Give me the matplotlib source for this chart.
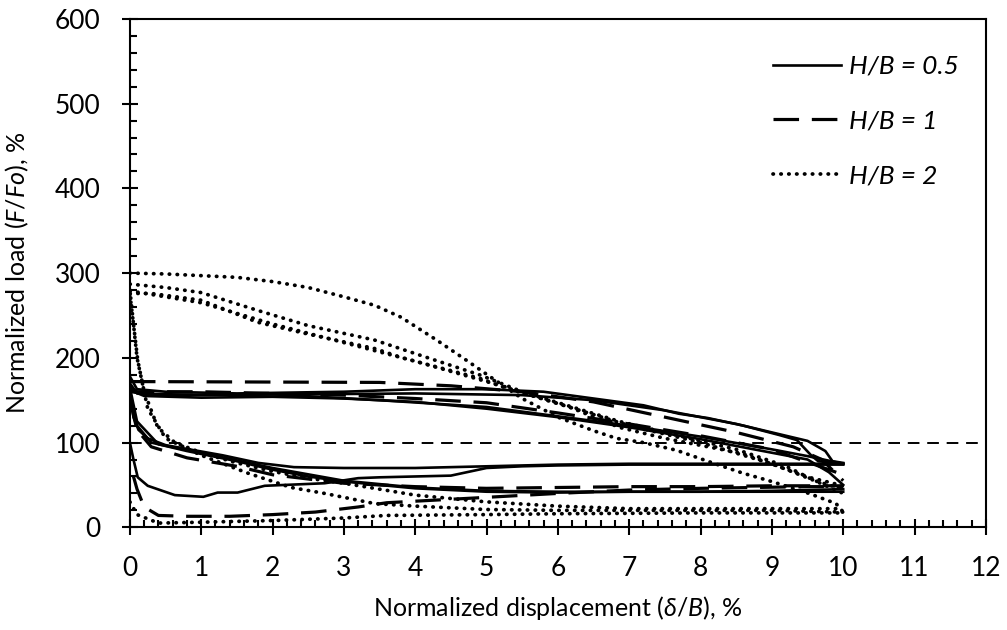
import matplotlib
matplotlib.use("Agg")
import matplotlib.pyplot as plt
from matplotlib.ticker import MultipleLocator

plt.rcParams['font.family'] = ['Lato', 'DejaVu Sans']
plt.rcParams['mathtext.fontset'] = 'custom'
plt.rcParams['mathtext.rm'] = 'Lato'
plt.rcParams['mathtext.it'] = 'Lato:italic'
plt.rcParams['mathtext.fallback'] = 'stixsans'

# H/B = 0.5 (solid)
s1_x = [0, 0.1, 0.5, 1.5, 3, 4, 5, 5.8, 6.5, 7.2, 7.7, 8.1, 8.6, 9.1, 9.35, 9.55, 9.65, 10]
s1_y = [178, 163, 160, 158, 160, 163, 163, 160, 152, 144, 134, 129, 120, 109, 103, 85, 78, 75]
s2_x = [0, 0.1, 1, 2.5, 4, 5.5, 6.5, 7.5, 8.5, 9.2, 9.5, 9.75, 9.85, 10]
s2_y = [170, 158, 156, 157, 158, 156, 150, 138, 122, 108, 102, 90, 78, 76]
s3_x = [0, 0.2, 1, 2, 3, 4, 5, 6, 7, 8, 9, 9.5, 9.8, 10]
s3_y = [162, 155, 153, 154, 152, 148, 140, 130, 118, 104, 88, 80, 65, 50]
s4_x = [0, 0.3, 2, 3.5, 5, 6, 7, 8, 9, 9.5, 10]
s4_y = [160, 156, 157, 150, 142, 131, 120, 107, 92, 84, 75]
s5_x = [0, 0.05, 0.12, 0.25, 0.5, 0.9, 1.3, 1.8, 2.3, 3, 4, 5, 6, 7, 8, 9, 10]
s5_y = [160, 130, 115, 105, 97, 91, 85, 76, 71, 70, 70, 72, 74, 75, 75, 75, 75]
s6_x = [0, 0.05, 0.11, 0.25, 0.63, 1.03, 1.23, 1.51, 1.89, 2.73, 3.2, 3.5, 4, 4.5, 5, 5.5, 6, 7, 8, 9, 10]
s6_y = [100, 80, 59, 49, 38, 36, 41, 41, 49, 52, 58, 59, 60, 61, 70, 72, 73, 74, 74, 74, 74]
s7_x = [0, 0.1, 0.3, 0.8, 1.5, 2, 2.5, 3, 3.5, 4, 5, 6, 7, 8, 9, 10]
s7_y = [155, 120, 100, 90, 78, 68, 60, 54, 50, 46, 42, 41, 42, 42, 43, 45]
s8_x = [0, 0.1, 0.4, 1, 2, 3, 4, 5, 6, 8, 10]
s8_y = [165, 125, 98, 88, 70, 55, 47, 43, 42, 42, 42]

# H/B = 1 (dashed)
d1_x = [0, 3.5, 4.5, 5.5, 6.5, 7.5, 8.5, 9.3, 9.7, 10]
d1_y = [172, 171, 167, 160, 148, 130, 112, 95, 80, 55]
d2_x = [0, 0.1, 1, 2, 3, 4, 5, 6, 7, 8, 9, 10]
d2_y = [165, 160, 160, 158, 156, 152, 147, 135, 122, 108, 92, 62]
d3_x = [0, 0.1, 0.3, 0.8, 1.5, 2, 3, 4, 5, 6, 7, 8, 9, 10]
d3_y = [150, 115, 95, 82, 72, 62, 52, 48, 46, 47, 48, 48, 49, 49]
d4_x = [0.05, 0.1, 0.2, 0.4, 0.8, 1.4, 2, 2.6, 3.2, 3.6, 4.7, 6, 7, 8, 9.5, 10]
d4_y = [60, 45, 24, 14, 13, 13, 15, 18, 24, 29, 34, 40, 44, 46, 48, 48]

# H/B = 2 (dotted)
t1_x = [0, 0.5, 1, 1.5, 2, 2.5, 3, 3.43, 3.8, 4.3, 4.72, 5.08, 5.5, 6, 6.5, 6.82, 7.2, 7.66, 8.1, 8.59, 9, 9.52, 9.9, 10]
t1_y = [300, 299, 297, 295, 290, 283, 272, 262, 248, 221, 197, 176, 152, 130, 114, 105, 100, 91, 78, 64, 54, 40, 28, 18]
t2_x = [0, 0.5, 1, 1.79, 2.5, 3.43, 4, 4.9, 5.5, 6.2, 6.86, 7.5, 8.5, 9.2, 9.6, 10]
t2_y = [287, 283, 277, 256, 238, 221, 205, 180, 160, 142, 125, 112, 92, 72, 55, 45]
t3_x = [0, 0.3, 1, 1.79, 2.5, 3.43, 3.82, 4.9, 5.22, 6.16, 6.86, 7.5, 8.59, 9.52, 10]
t3_y = [276, 276, 268, 242, 228, 211, 200, 176, 166, 142, 118, 105, 87, 59, 49]
t4_x = [0, 1, 2, 3, 4, 5, 6, 7, 8, 9, 9.6, 10]
t4_y = [279, 265, 240, 218, 196, 172, 146, 120, 100, 75, 55, 40]
t5_x = [0, 0.05, 0.11, 0.2, 0.39, 0.63, 1, 1.5, 2, 2.5, 3, 3.5, 4, 5, 6, 7, 8, 9, 10]
t5_y = [275, 240, 197, 160, 118, 100, 88, 76, 66, 58, 52, 45, 38, 30, 25, 22, 22, 22, 22]
t6_x = [0, 0.1, 0.25, 0.5, 1, 1.65, 2.26, 2.73, 3.43, 4, 5, 6, 7, 8, 9, 10]
t6_y = [280, 200, 140, 105, 85, 64, 47, 40, 28, 25, 21, 20, 20, 20, 20, 18]
t7_x = [0, 0.1, 0.4, 1, 2, 3, 3.6, 5, 6, 8, 10]
t7_y = [30, 15, 5, 6, 8, 11, 14, 15, 16, 17, 17]

solid = [(s1_x, s1_y), (s2_x, s2_y), (s3_x, s3_y), (s4_x, s4_y),
         (s5_x, s5_y), (s6_x, s6_y), (s7_x, s7_y), (s8_x, s8_y)]
dashed = [(d1_x, d1_y), (d2_x, d2_y), (d3_x, d3_y), (d4_x, d4_y)]
dotted = [(t1_x, t1_y), (t2_x, t2_y), (t3_x, t3_y), (t4_x, t4_y),
          (t5_x, t5_y), (t6_x, t6_y), (t7_x, t7_y)]

ref_x = [0, 12]
ref_y = [100, 100]

fig = plt.figure(figsize=(10.07, 6.3), dpi=100)
ax = fig.add_axes([0.129, 0.163, 0.850, 0.807])

sty_solid = dict(color='black', lw=1.9, solid_joinstyle='round')
sty_dash = dict(color='black', lw=2.3, linestyle=(0, (8, 4)))
sty_dot = dict(color='black', lw=2.7, linestyle=(0, (0.1, 2.0)), dash_capstyle='round')

ax.plot(ref_x, ref_y, color='black', lw=1.4, linestyle=(0, (6, 4)))

for i, (x, y) in enumerate(solid):
    ax.plot(x, y, label='H/B = 0.5' if i == 0 else None, **sty_solid)
for i, (x, y) in enumerate(dashed):
    ax.plot(x, y, label='H/B = 1' if i == 0 else None, **sty_dash)
for i, (x, y) in enumerate(dotted):
    ax.plot(x, y, label='H/B = 2' if i == 0 else None, **sty_dot)

ax.set_xlim(0, 12)
ax.set_ylim(0, 600)
ax.xaxis.set_major_locator(MultipleLocator(1))
ax.xaxis.set_minor_locator(MultipleLocator(0.2))
ax.yaxis.set_major_locator(MultipleLocator(100))
ax.yaxis.set_minor_locator(MultipleLocator(20))
ax.tick_params(which='major', direction='inout', length=12, width=1.5, labelsize=19, pad=15)
ax.tick_params(which='minor', direction='in', length=5, width=1.5)
for sp in ax.spines.values():
    sp.set_linewidth(1.5)

ax.set_xlabel('Normalized displacement ($\\mathit{\\delta/B}$), %', fontsize=18, labelpad=9)
ax.set_ylabel('Normalized load ($\\mathit{F/Fo}$), %', fontsize=18, labelpad=17)

leg = ax.legend(loc='upper right', bbox_to_anchor=(0.981, 0.950), frameon=False,
                handlelength=2.6, handletextpad=0.3, labelspacing=1.2,
                borderaxespad=0.0, prop={'style': 'italic', 'size': 19})

fig.savefig('out.png', dpi=100)
